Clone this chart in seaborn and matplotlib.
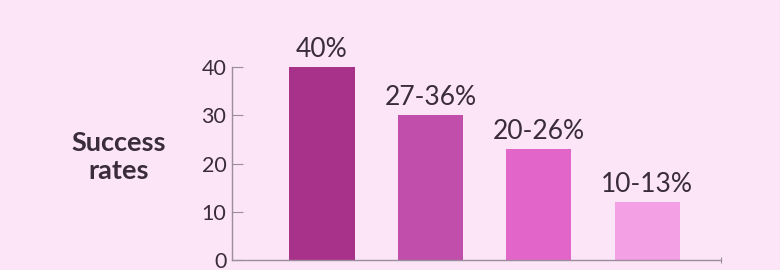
import matplotlib
matplotlib.use("Agg")
import matplotlib.pyplot as plt
import seaborn as sns
import pandas as pd

# Data
labels = ["40%", "27-36%", "20-26%", "10-13%"]
values = [40, 30, 23, 12]
colors = ["#a8328a", "#c04eaa", "#e265c9", "#f3a0e5"]
yticks = [0, 10, 20, 30, 40]

BG = "#fbe5f7"
TXT = "#3a2c3a"
AX = "#9c8c9c"

sns.set_theme(style="white")
plt.rcParams['font.family'] = ['Lato', 'DejaVu Sans']

fig = plt.figure(figsize=(7.8, 2.7), dpi=100, facecolor=BG)
ax = fig.add_axes([232/780, 10/270, 489/780, 193/270])
ax.set_facecolor(BG)

df = pd.DataFrame({"cat": labels, "val": values})
sns.barplot(data=df, x="cat", y="val", hue="cat", palette=colors,
            legend=False, width=0.6, ax=ax, saturation=1,
            edgecolor="none", linewidth=0)

ax.set_ylim(0, 40)
ax.set_xlim(-0.83, 3.68)
ax.set_yticks(yticks)
ax.set_yticklabels([str(t) for t in yticks], fontsize=15.5, color=TXT)
ax.set_xticks([])
ax.set_xticks([3.68], minor=True)
ax.tick_params(axis="x", which="minor", direction="inout", length=5, width=0.8,
               color=AX, bottom=True, labelbottom=False)
ax.set_xlabel("")
ax.set_ylabel("")
ax.tick_params(axis="y", direction="in", length=8, width=0.8, color=AX, pad=4, left=True)
for s in ["top", "right"]:
    ax.spines[s].set_visible(False)
for s in ["left", "bottom"]:
    ax.spines[s].set_color(AX)
    ax.spines[s].set_linewidth(1.0)

for i, (lab, v) in enumerate(zip(labels, values)):
    ax.annotate(lab, xy=(i, v), xytext=(0, 7.5), textcoords="offset points",
                ha="center", va="baseline", fontsize=19, color=TXT,
                annotation_clip=False)

fig.text(119/780, 0.42, "Success\nrates", ha="center", va="center",
         fontsize=19.5, fontweight="bold", color=TXT, linespacing=1.2)

fig.savefig("out.png", dpi=100, facecolor=BG)
